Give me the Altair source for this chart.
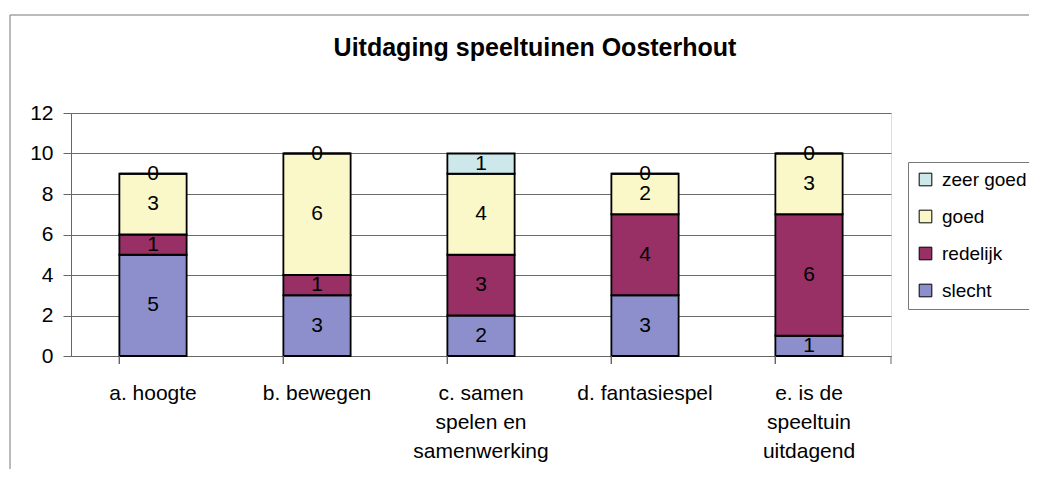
import altair as alt
import pandas as pd

categories = ["a. hoogte", "b. bewegen", "c. samen|spelen en|samenwerking",
              "d. fantasiespel", "e. is de|speeltuin|uitdagend"]
series = ["slecht", "redelijk", "goed", "zeer goed"]
slecht = [5, 3, 2, 3, 1]
redelijk = [1, 1, 3, 4, 6]
goed = [3, 6, 4, 2, 3]
zeer_goed = [0, 0, 1, 0, 0]
colors = ["#8C8FCB", "#983066", "#FAF7C8", "#CDE8EA"]
y_ticks = [0, 2, 4, 6, 8, 10, 12]
title_text = "Uitdaging speeltuinen Oosterhout"

rows = []
for i, c in enumerate(categories):
    for j, (s, vals) in enumerate(zip(series, [slecht, redelijk, goed, zeer_goed])):
        rows.append({"cat": c, "series": s, "value": vals[i], "order": j})
df = pd.DataFrame(rows)

W, H = 820, 243
FONT = "Liberation Sans"

legend_domain = series[::-1]
legend_range = colors[::-1]

base = alt.Chart(df).transform_stack(
    stack="value", groupby=["cat"], sort=[alt.SortField("order")], as_=["y0", "y1"]
).transform_calculate(mid="(datum.y0 + datum.y1) / 2")

xscale = alt.Scale(paddingInner=0.59, paddingOuter=0.295)

bars = base.mark_bar(stroke="black", strokeWidth=1.8).encode(
    x=alt.X("cat:N", sort=categories, scale=xscale, title=None,
            axis=alt.Axis(labelAngle=0, ticks=False, labelFontSize=21, labelFont=FONT,
                          labelColor="black", labelPadding=26, labelLineHeight=29,
                          labelExpr="split(datum.label, '|')", domainColor="#666",
                          labelBaseline="top")),
    y=alt.Y("y0:Q", scale=alt.Scale(domain=[0, 12]), title=None,
            axis=alt.Axis(values=y_ticks, labelFontSize=21, labelFont=FONT, labelColor="black",
                          tickSize=8, tickColor="#666", domainColor="#666", gridColor="#6a6a6a",
                          labelPadding=10)),
    y2="y1:Q",
    color=alt.Color("series:N", scale=alt.Scale(domain=legend_domain, range=legend_range),
                    legend=alt.Legend(title=None, orient="none", legendX=837, legendY=49,
                                      strokeColor="#777", fillColor="white", padding=8,
                                      symbolType="square", symbolSize=160,
                                      symbolStrokeColor="black", symbolStrokeWidth=1,
                                      labelFontSize=19, labelFont=FONT, labelColor="black",
                                      rowPadding=17, labelOffset=7)),
)

labels = base.mark_text(fontSize=21, font=FONT, color="black").encode(
    x=alt.X("cat:N", sort=categories, scale=xscale),
    y=alt.Y("mid:Q"),
    text=alt.Text("value:Q"),
)

ticks = alt.Chart(df).mark_rule(color="#666").encode(
    x=alt.X("cat:N", sort=categories, scale=xscale, bandPosition=0),
    y=alt.value(H), y2=alt.value(H + 8),
)
end_tick = alt.Chart(pd.DataFrame({"a": [0]})).mark_rule(color="#666").encode(
    x=alt.value(W), y=alt.value(H), y2=alt.value(H + 8),
)

one = pd.DataFrame({"t": [title_text]})
border = alt.Chart(one).mark_rect(fillOpacity=0, stroke="#777", strokeWidth=1).encode(
    x=alt.value(-61), x2=alt.value(W + 400), y=alt.value(-98), y2=alt.value(H + 400),
)
title = alt.Chart(one).mark_text(fontSize=25, font=FONT, fontWeight="bold", color="black",
                                 align="center", baseline="middle").encode(
    x=alt.value(464), y=alt.value(-65), text="t:N",
)

chart = alt.layer(border, bars, labels, ticks, end_tick, title).properties(
    width=W, height=H,
    autosize=alt.AutoSizeParams(type="none"),
    padding={"left": 63, "top": 105, "right": 138, "bottom": 113},
).configure_view(fill="#B6B7B9", stroke="#777").configure(background="white")

chart.save("out.html", embed_options={"renderer": "svg", "actions": False})
